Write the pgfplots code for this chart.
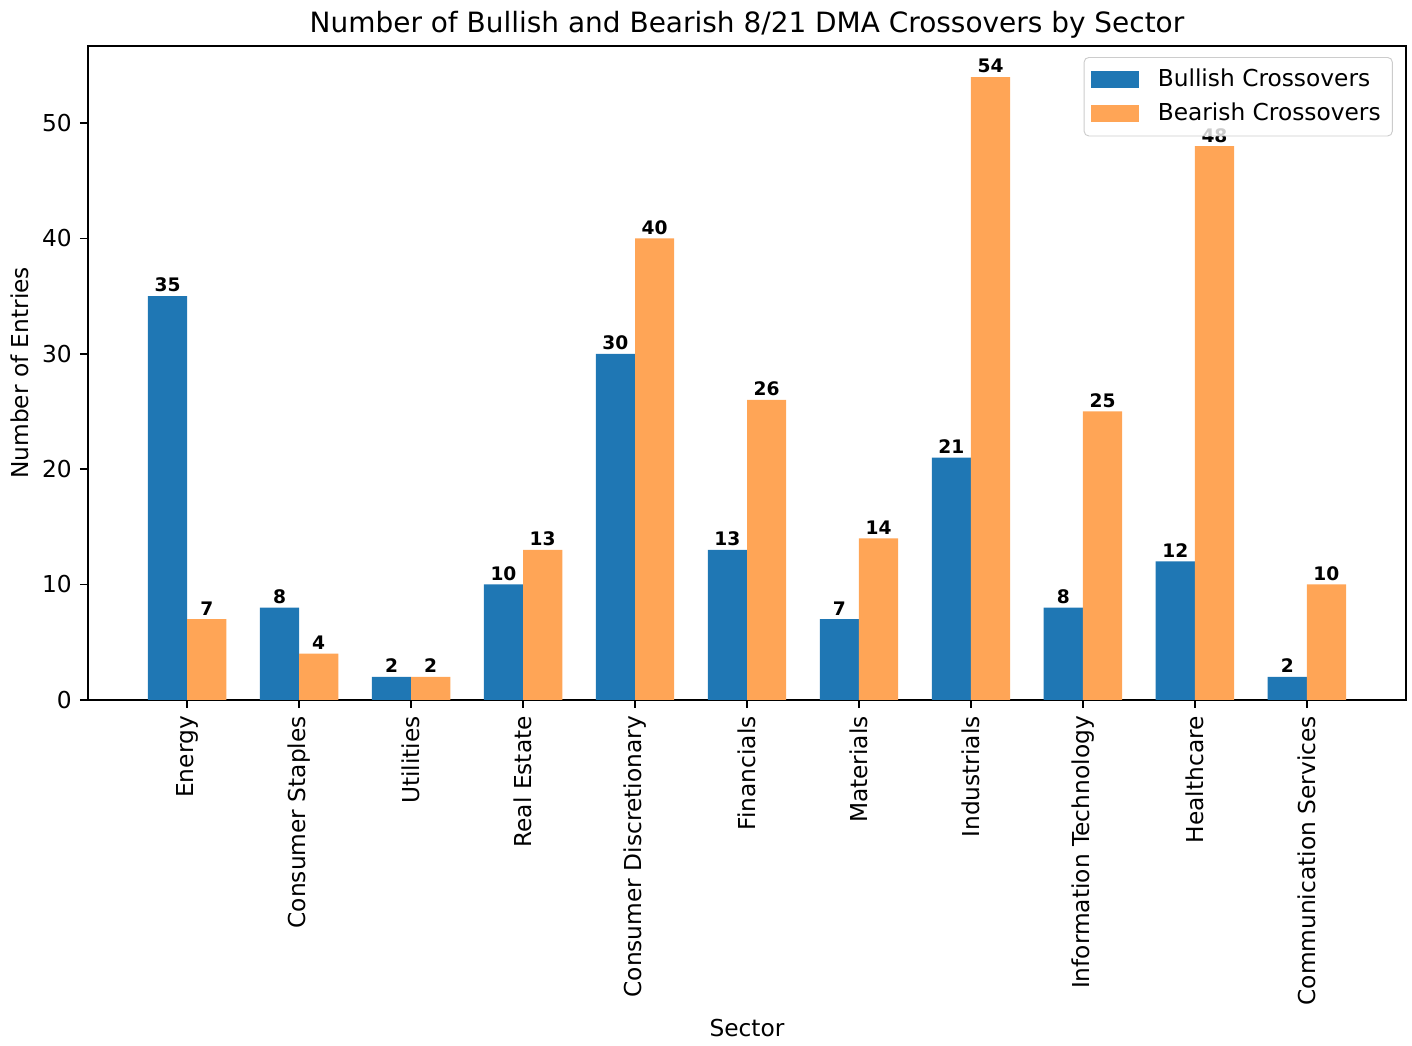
\documentclass[border=0pt]{standalone}
\usepackage{pgfplots}
\pgfplotsset{compat=1.18}
\usepackage{fontspec}
\setmainfont{DejaVu Sans}
\definecolor{cblue}{HTML}{1F77B4}
\definecolor{corange}{HTML}{FFA556}
\begin{document}
\begin{tikzpicture}
\begin{axis}[
  name=ax,
  scale only axis,
  width=565.7pt, height=280.7pt,
  xmin=-0.885, xmax=10.885,
  ymin=0, ymax=56.7,
  ytick={0,10,20,30,40,50},
  xtick={0,1,2,3,4,5,6,7,8,9,10},
  xticklabels={Energy,Consumer Staples,Utilities,Real Estate,Consumer Discretionary,Financials,Materials,Industrials,Information Technology,Healthcare,Communication Services},
  x tick label style={rotate=90, anchor=east},
  tick align=outside,
  major tick length=3.5pt,
  tick pos=left,
  axis line style={line width=0.8pt},
  every tick/.style={line width=0.8pt, black},
  /pgf/number format/assume math mode=true,
  tick label style={font=\fontsize{10}{12}\selectfont},
  title={Number of Bullish and Bearish 8/21 DMA Crossovers by Sector},
  title style={at={(axis description cs:0.5,1)}, anchor=base, yshift=-0.4pt, font=\fontsize{12}{14}\selectfont},
  ylabel={Number of Entries},
  ylabel style={at={(axis description cs:-0.0516,0.5)}, anchor=center, font=\fontsize{10}{12}\selectfont},
  xlabel={Sector},
  xlabel style={at={(axis description cs:0.5,-0.5016)}, anchor=center, font=\fontsize{10}{12}\selectfont},
  ybar, bar width=0.35,
  nodes near coords,
  every node near coord/.append style={font=\bfseries\fontsize{8}{9}\selectfont, inner sep=1.5pt, black},
  legend style={at={(0.990,0.983)}, anchor=north east, draw=black!20, rounded corners=2pt, fill=white, fill opacity=0.8, draw opacity=1, text opacity=1, font=\fontsize{10}{12}\selectfont, row sep=1.5pt, inner sep=3pt,
    /tikz/every odd column/.append style={column sep=6pt}},
  legend cell align=left,
  legend image code/.code={\fill[#1, sharp corners, fill opacity=1] (0pt,-3.6pt) rectangle (20.6pt,3.6pt);},
]
\addplot[fill=cblue, draw=none, bar shift=-0.175] coordinates {
(0,35) (1,8) (2,2) (3,10) (4,30) (5,13) (6,7) (7,21) (8,8) (9,12) (10,2)};
\addlegendentry{Bullish Crossovers}
\addplot[fill=corange, draw=none, bar shift=0.175] coordinates {
(0,7) (1,4) (2,2) (3,13) (4,40) (5,26) (6,14) (7,54) (8,25) (9,48) (10,10)};
\addlegendentry{Bearish Crossovers}
\end{axis}
\pgfresetboundingbox
\path ([xshift=-37.8pt,yshift=-148.5pt]ax.south west) rectangle ([xshift=2.6pt,yshift=19.7pt]ax.north east);
\end{tikzpicture}
\end{document}
